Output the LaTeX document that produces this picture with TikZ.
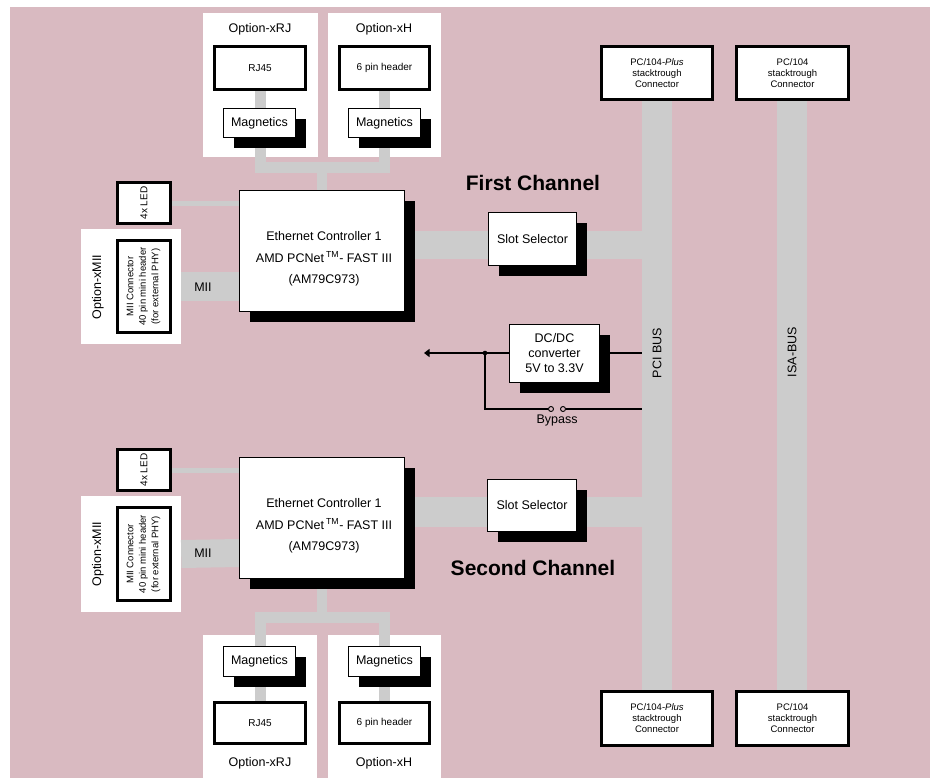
\documentclass[tikz,border=0pt]{standalone}
\usepackage{fontspec}
\setmainfont{Liberation Sans}
\usetikzlibrary{shadows,arrows.meta,calc}
\definecolor{pinkbg}{RGB}{217,186,193}
\definecolor{busgray}{RGB}{204,204,204}
\begin{document}
\begin{tikzpicture}[x=1pt,y=-1pt,
  txt/.style={font=\fontsize{12.5}{15}\selectfont, inner sep=0pt},
  smalltxt/.style={font=\fontsize{9.5}{11}\selectfont, inner sep=0pt, align=center},
  headtxt/.style={font=\fontsize{21}{24}\selectfont\bfseries, inner sep=0pt},
  thickbox/.style={draw=black, fill=white, line width=3pt, inner sep=0pt, align=center},
  shbox/.style={draw=black, fill=white, line width=0.9pt, inner sep=0pt, align=center,
    drop shadow={shadow xshift=10.5pt, shadow yshift=-10.5pt, fill=black, opacity=1},
    font=\fontsize{12.5}{15}\selectfont},
  panel/.style={fill=white, draw=none, inner sep=0pt},
  busbar/.style={fill=busgray, draw=none, inner sep=0pt},
  bus/.style={draw=busgray, line cap=butt, line join=miter},
  wire/.style={draw=black, line width=1.2pt},
  sw/.style={circle, draw=black, fill=pinkbg, line width=0.9pt, minimum size=5pt, inner sep=0pt},
  ctltxt/.style={font=\fontsize{12.5}{21.5}\selectfont, align=center, inner sep=0pt},
]
\useasboundingbox (0,0) rectangle (933,778);
\fill[white] (0,0) rectangle (933,778);
\fill[pinkbg] (10,7) rectangle (930,778);

% white option panels
\node[panel, minimum width=115, minimum height=144] (prj1) at (260.5,85) {};
\node[panel, minimum width=113, minimum height=144] (ph1) at (384.5,85) {};
\node[panel, minimum width=100, minimum height=115] (pmii1) at (131,286.5) {};
\node[panel, minimum width=100, minimum height=116] (pmii2) at (131,554) {};
\node[panel, minimum width=114, minimum height=143] (prj2) at (260,706.5) {};
\node[panel, minimum width=113, minimum height=143] (ph2) at (384.5,706.5) {};

% buses
\node[busbar, minimum width=30, minimum height=589] (pci) at (657,395.5) {};
\node[busbar, minimum width=30, minimum height=589] (isa) at (792,395.5) {};

% routing coordinates
\coordinate (tjoin) at (322,167.5);
\coordinate (bjoin) at (322,617.5);
\coordinate (sb1) at (405,245);
\coordinate (sb2) at (405,512);

% ---------- gray connections (drawn first, behind boxes) ----------
% channel 1
\draw[bus, line width=11pt] (260,91) -- (260,108);
\draw[bus, line width=11pt] (384.5,91) -- (384.5,108);
\draw[bus, line width=11pt] (260.5,138) |- (tjoin) -| (384.5,138);
\draw[bus, line width=10pt] (tjoin) -- (322,190);
\draw[bus, line width=5pt] (172,203.5) -- (239,203.5);
\draw[bus, line width=29pt] (pmii1.east) -- (239,286.5);
\draw[bus, line width=28pt] (sb1) -- (sb1 -| pci.west);
% channel 2
\draw[bus, line width=11pt] (260,677) -- (260,701);
\draw[bus, line width=11pt] (384.5,677) -- (384.5,701);
\draw[bus, line width=11pt] (260.5,646) |- (bjoin) -| (384.5,646);
\draw[bus, line width=10pt] (bjoin) -- (322,579);
\draw[bus, line width=5pt] (172,470.5) -- (239,470.5);
\draw[bus, line width=28pt] (pmii2.east) -- (239,553);
\draw[bus, line width=30pt] (sb2) -- (sb2 -| pci.west);

% ---------- channel 1 boxes ----------
\node[thickbox, minimum width=91, minimum height=43, font=\fontsize{10}{12}\selectfont] (rj1) at (260,68) {RJ45};
\node[thickbox, minimum width=90, minimum height=43, font=\fontsize{10}{12}\selectfont] (h1) at (384.5,68) {6 pin header};
\node[txt] (orj1) at (260,29) {Option-xRJ};
\node[txt] (oh1) at (384,29) {Option-xH};
\node[shbox, minimum width=72, minimum height=29] (mag1) at (259.5,123) {Magnetics};
\node[shbox, minimum width=72, minimum height=29] (magh1) at (384.5,123) {Magnetics};

\node[shbox, minimum width=165, minimum height=121] (ctl1) at (322,251) {};
\node[ctltxt] (ctl1t) at ($(ctl1.center)+(2,8)$) {Ethernet Controller 1\\AMD PCNet\,\textsuperscript{TM}- FAST III\\(AM79C973)};

\node[thickbox, minimum width=53, minimum height=41] (led1) at (144,203) {};
\node[smalltxt, font=\fontsize{10}{12}\selectfont, rotate=90] (led1t) at (led1.center) {4x LED};
\node[thickbox, minimum width=53, minimum height=92] (mii1) at (144,286.5) {};
\node[smalltxt, font=\fontsize{9.5}{12.5}\selectfont, rotate=90] (mii1t) at (143.5,286.5) {MII Connector\\40 pin mini header\\(for external PHY)};
\node[txt, rotate=90] (omii1) at (98,287) {Option-xMII};
\node[txt] (miil1) at (203,287.5) {MII};

\node[shbox, minimum width=88, minimum height=53] (slot1) at (532.5,239) {Slot Selector};
\node[headtxt] (first) at (533,183) {First Channel};

% ---------- DC/DC ----------
\node[shbox, minimum width=90, minimum height=58] (dcdc) at (554.5,353) {DC/DC\\converter\\5V to 3.3V};
\coordinate (arrowend) at (424,353);
\coordinate (dot) at (485,353);
\draw[wire, -{Triangle[length=5.5pt,width=8pt]}] (dcdc.west) -- (arrowend);
\fill (dot) circle (2.3);
\draw[wire] (dcdc.east) -- (dcdc.east -| pci.west);
\node[sw] (sw1) at (551,409) {};
\node[sw] (sw2) at (563,409) {};
\draw[wire] (dot) |- (sw1.west);
\draw[wire] (sw2.east) -- (sw2.east -| pci.west);
\node[txt] (bypass) at (557,420) {Bypass};

% ---------- PC/104 connectors ----------
\node[thickbox, minimum width=111, minimum height=53, font=\fontsize{9.5}{11}\selectfont] (pcp1) at (657,73) {PC/104-\textit{Plus}\\stacktrough\\Connector};
\node[thickbox, minimum width=112, minimum height=53, font=\fontsize{9.5}{11}\selectfont] (pc1) at (792.5,73) {PC/104\\stacktrough\\Connector};
\node[thickbox, minimum width=111, minimum height=54, font=\fontsize{9.5}{11}\selectfont] (pcp2) at (657,718.5) {PC/104-\textit{Plus}\\stacktrough\\Connector};
\node[thickbox, minimum width=112, minimum height=54, font=\fontsize{9.5}{11}\selectfont] (pc2) at (792.5,718.5) {PC/104\\stacktrough\\Connector};
\node[txt, rotate=90] (pcil) at (657,353) {PCI BUS};
\node[txt, rotate=90] (isal) at (792,352) {ISA-BUS};

% ---------- channel 2 boxes ----------
\node[thickbox, minimum width=53, minimum height=41] (led2) at (144,470) {};
\node[smalltxt, font=\fontsize{10}{12}\selectfont, rotate=90] (led2t) at (led2.center) {4x LED};
\node[thickbox, minimum width=53, minimum height=93] (mii2) at (144,554) {};
\node[smalltxt, font=\fontsize{9.5}{12.5}\selectfont, rotate=90] (mii2t) at (143.5,554) {MII Connector\\40 pin mini header\\(for external PHY)};
\node[txt, rotate=90] (omii2) at (98,554) {Option-xMII};
\node[txt] (miil2) at (203,553.5) {MII};

\node[shbox, minimum width=165, minimum height=121] (ctl2) at (322,518) {};
\node[ctltxt] (ctl2t) at ($(ctl2.center)+(2,8)$) {Ethernet Controller 1\\AMD PCNet\,\textsuperscript{TM}- FAST III\\(AM79C973)};

\node[shbox, minimum width=89, minimum height=52] (slot2) at (532,505.5) {Slot Selector};
\node[headtxt] (second) at (533,568) {Second Channel};

\node[shbox, minimum width=72, minimum height=30] (mag2) at (259.5,661.5) {Magnetics};
\node[shbox, minimum width=72, minimum height=30] (magh2) at (384.5,661.5) {Magnetics};
\node[thickbox, minimum width=91, minimum height=41, font=\fontsize{10}{12}\selectfont] (rj2) at (260,723) {RJ45};
\node[thickbox, minimum width=90, minimum height=41, font=\fontsize{10}{12}\selectfont] (h2) at (384.5,723) {6 pin header};
\node[txt] (orj2) at (260,763) {Option-xRJ};
\node[txt] (oh2) at (384,763) {Option-xH};
\end{tikzpicture}
\end{document}
